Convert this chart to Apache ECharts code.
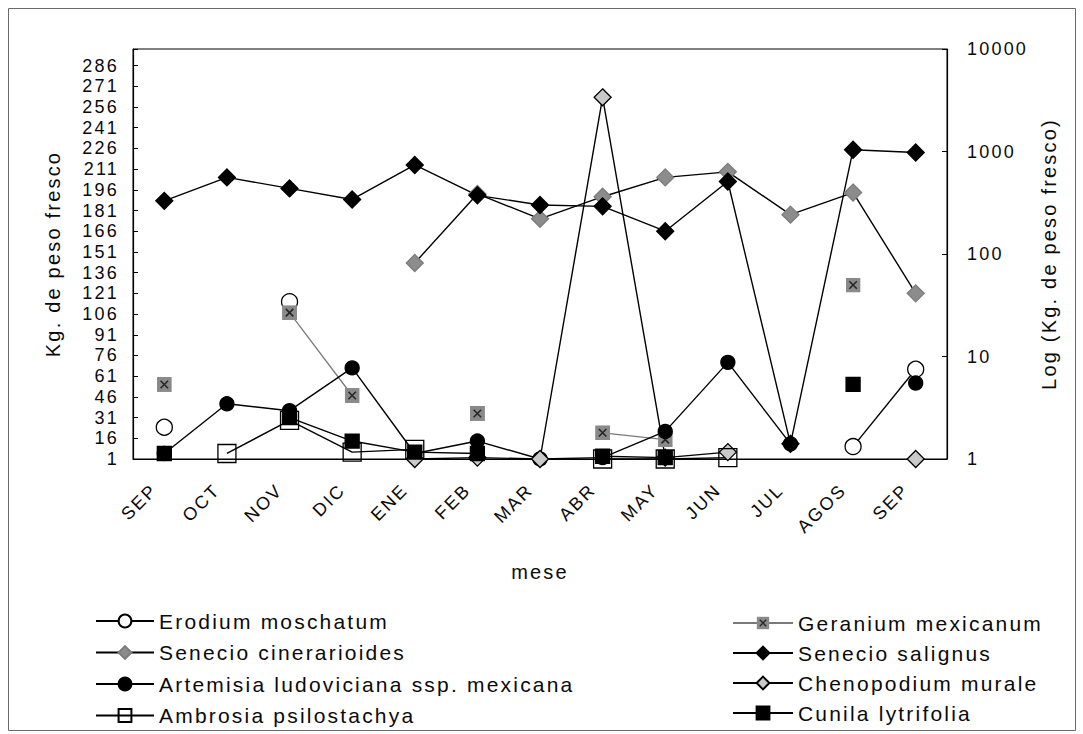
<!DOCTYPE html>
<html>
<head>
<meta charset="utf-8">
<title>Kg. de peso fresco por mes</title>
<script src="https://cdn.jsdelivr.net/npm/echarts@6/dist/echarts.min.js"></script>
<style>
  html, body { margin: 0; padding: 0; background: #ffffff; }
  #chart { width: 1083px; height: 734px; }
  /* widen glyph spacing slightly, like the original print typeface */
  #chart svg text { letter-spacing: 2.2px; }
</style>
</head>
<body>
<div id="chart"></div>
<script>
// Months of sampling (Sept to Sept)
const months = ['SEP', 'OCT', 'NOV', 'DIC', 'ENE', 'FEB', 'MAR', 'ABR', 'MAY', 'JUN', 'JUL', 'AGOS', 'SEP'];

// Kg. de peso fresco per species and month (null = not recorded)
const erodium     = [24, null, 115, null, null, null, null, null, null, null, null, 10, 66];
const geranium    = [55, null, 107, 47, null, 34, null, 20, 15, null, null, 127, null];
const senecioCin  = [null, null, null, null, 143, 193, 175, 191, 205, 209, 178, 194, 121];
const senecioSal  = [188, 205, 197, 189, 214, 192, 185, 184, 166, 202, 12, 225, 223];
const artemisia   = [5, 41, 36, 67, 5, 14, 1, 2, 21, 71, 12, null, 56];
const chenopodium = [null, null, null, null, 1, 2, 1, 263, 2, 6, null, null, 1];
const ambrosia    = [null, 5, 29, 6, 8, null, null, 1, 1, 2, null, null, null];
const cunila      = [5, null, 31, 14, 6, 5, null, 3, 2, null, null, 55, null];

// Axis tick labels
const leftTicks = [1, 16, 31, 46, 61, 76, 91, 106, 121, 136, 151, 166, 181, 196, 211, 226, 241, 256, 271, 286];
const rightTicks = [1, 10, 100, 1000, 10000];

const FONT = "'Liberation Sans', Arial, Helvetica, sans-serif";
const INK = '#0a0a0a';

// grey square marker with a dark cross
const crossSquare = 'image://data:image/svg+xml;charset=utf-8,' + encodeURIComponent(
  "<svg xmlns='http://www.w3.org/2000/svg' width='16' height='16' viewBox='0 0 16 16'>" +
  "<rect x='0' y='0' width='16' height='16' fill='#8a8a8a'/>" +
  "<path d='M4 4L12 12M12 4L4 12' stroke='#262626' stroke-width='1.7' fill='none'/></svg>");

function lineSeries(name, data, symbol, size, fill, border, lineColor, extra) {
  return Object.assign({
    name: name,
    type: 'line',
    yAxisIndex: 0,
    data: data,
    symbol: symbol,
    symbolSize: size,
    showSymbol: true,
    showAllSymbol: true,
    connectNulls: false,
    lineStyle: { color: lineColor, width: 1.4 },
    itemStyle: { color: fill, borderColor: border, borderWidth: border === 'none' ? 0 : 1.3 },
    emphasis: { disabled: true },
    animation: false
  }, extra || {});
}

const legendText = { fontSize: 21, color: INK, lineHeight: 21, fontFamily: FONT };

const chart = echarts.init(document.getElementById('chart'), null, { renderer: 'svg' });

chart.setOption({
  backgroundColor: '#ffffff',
  animation: false,
  textStyle: { fontFamily: FONT, color: INK },
  graphic: [{
    type: 'rect',
    shape: { x: 8.5, y: 8.5, width: 1067, height: 722 },
    style: { fill: 'none', stroke: '#6a6a6a', lineWidth: 1 },
    silent: true,
    z: -10
  }],
  grid: {
    left: 133, right: 136, top: 49, bottom: 275,
    show: true, borderColor: '#000', borderWidth: 1, backgroundColor: 'transparent'
  },
  legend: [{
    orient: 'vertical',
    left: 95, top: 610.5, padding: 0,
    itemWidth: 58, itemHeight: 16, itemGap: 10.5,
    textStyle: legendText,
    data: ['Erodium moschatum', 'Senecio cinerarioides', 'Artemisia ludoviciana ssp. mexicana', 'Ambrosia psilostachya']
  }, {
    orient: 'vertical',
    left: 732, top: 612.5, padding: 0,
    itemWidth: 60, itemHeight: 16, itemGap: 9,
    textStyle: legendText,
    data: ['Geranium mexicanum', 'Senecio salignus', 'Chenopodium murale', 'Cunila lytrifolia']
  }],
  xAxis: {
    type: 'category',
    data: months,
    boundaryGap: true,
    name: 'mese',
    nameLocation: 'middle',
    nameGap: 103,
    nameTextStyle: { fontSize: 20, color: INK },
    axisLine: { lineStyle: { color: '#000', width: 1.2 } },
    axisTick: { inside: true, length: 5, interval: 0, lineStyle: { color: '#000' } },
    axisLabel: { rotate: 45, fontSize: 18, color: INK, margin: 18, padding: [0, 14, 0, 0], interval: 0 },
    splitLine: { show: false }
  },
  yAxis: [{
    type: 'value',
    position: 'left',
    min: 1, max: 298, interval: 15,
    name: 'Kg. de peso fresco',
    nameLocation: 'middle',
    nameRotate: 90,
    nameGap: 70,
    nameTextStyle: { fontSize: 20, color: INK },
    axisLine: { show: true, lineStyle: { color: '#000', width: 1.2 } },
    axisTick: { show: true, inside: true, length: 5, lineStyle: { color: '#000' } },
    axisLabel: {
      fontSize: 18, color: INK, margin: 14,
      formatter: function (v) { return leftTicks.indexOf(Math.round(v)) >= 0 ? String(Math.round(v)) : ''; }
    },
    splitLine: { show: false }
  }, {
    type: 'log',
    logBase: 10,
    position: 'right',
    min: 1, max: 10000,
    name: 'Log (Kg. de peso fresco)',
    nameLocation: 'middle',
    nameRotate: 90,
    nameGap: 92,
    nameTextStyle: { fontSize: 20, color: INK },
    axisLine: { show: true, lineStyle: { color: '#000', width: 1.2 } },
    axisTick: { show: true, inside: true, length: 5, lineStyle: { color: '#000' } },
    axisLabel: {
      fontSize: 18, color: INK, margin: 20,
      formatter: function (v) { return rightTicks.indexOf(Math.round(v)) >= 0 ? String(Math.round(v)) : ''; }
    },
    minorTick: { show: false },
    splitLine: { show: false }
  }],
  series: [
    lineSeries('Erodium moschatum', erodium, 'circle', 16, '#ffffff', '#000', '#000'),
    lineSeries('Geranium mexicanum', geranium, crossSquare, 15, '#8a8a8a', 'none', '#7a7a7a', { lineStyle: { color: '#7a7a7a', width: 1.3 } }),
    lineSeries('Senecio cinerarioides', senecioCin, 'diamond', 17, '#8c8c8c', '#7c7c7c', '#000'),
    lineSeries('Senecio salignus', senecioSal, 'diamond', 17, '#000', '#000', '#000'),
    lineSeries('Artemisia ludoviciana ssp. mexicana', artemisia, 'circle', 14, '#000', '#000', '#000'),
    lineSeries('Chenopodium murale', chenopodium, 'diamond', 17, '#c9c9c9', '#000', '#000'),
    lineSeries('Ambrosia psilostachya', ambrosia, 'rect', 18, 'rgba(255,255,255,0)', '#000', '#000'),
    lineSeries('Cunila lytrifolia', cunila, 'rect', 14, '#000', '#000', '#000')
  ]
});
</script>
</body>
</html>
